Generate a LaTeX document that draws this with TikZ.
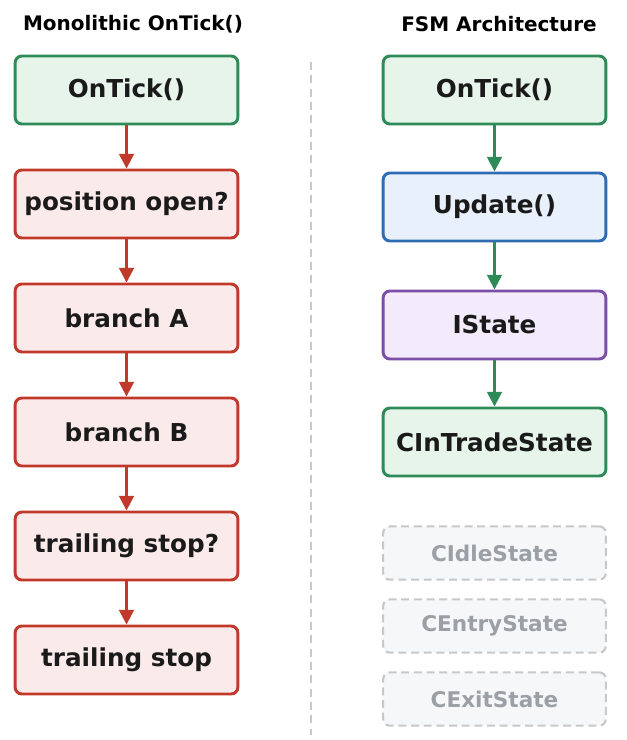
\documentclass[tikz,border=0pt]{standalone}
\usepackage{fontspec}
\setmainfont{DejaVu Sans}
\usetikzlibrary{arrows.meta}
\definecolor{gB}{HTML}{2E8B57}\definecolor{gF}{HTML}{E6F4EA}
\definecolor{rB}{HTML}{C0392B}\definecolor{rF}{HTML}{FBEAEA}
\definecolor{bB}{HTML}{2E6DB4}\definecolor{bF}{HTML}{E8F0FB}
\definecolor{pB}{HTML}{7B4FA8}\definecolor{pF}{HTML}{F3EAFB}
\definecolor{kB}{HTML}{C8C8C8}\definecolor{kF}{HTML}{F6F7F9}\definecolor{kT}{HTML}{9AA0A6}
\definecolor{txt}{HTML}{1A1A1A}
\begin{document}
\begin{tikzpicture}[x=0.75pt,y=-0.75pt,
 box/.style={draw,line width=2.2pt,rounded corners=5pt,minimum width=167pt,minimum height=51pt,font=\fontsize{18.5}{20}\selectfont\bfseries,text=txt},
 gbox/.style={box,draw=gB,fill=gF}, rbox/.style={box,draw=rB,fill=rF},
 bbox/.style={box,draw=bB,fill=bF}, pbox/.style={box,draw=pB,fill=pF},
 kbox/.style={box,draw=kB,fill=kF,text=kT,dash pattern=on 6pt off 3.5pt,line width=1.6pt,minimum height=40pt,font=\fontsize{16.2}{18}\selectfont\bfseries},
 rar/.style={draw=rB,line width=2pt,-{Triangle[length=11pt,width=11pt]}},
 gar/.style={draw=gB,line width=2pt,-{Triangle[length=11pt,width=11pt]}},
 ttl/.style={font=\fontsize{15}{17}\selectfont\bfseries,text=black}]
\useasboundingbox (0,0) rectangle (627,740);
\node[ttl] (t1) at (133,24) {Monolithic OnTick()};
\node[ttl] (t2) at (499,24) {FSM Architecture};
\coordinate (d1) at (311,62); \coordinate (d2) at (311,735);
\draw[kB,line width=1.6pt,dash pattern=on 6pt off 4pt] (d1) -- (d2);
\node[gbox] (l1) at (126.5,90) {OnTick()};
\node[rbox] (l2) at (126.5,204) {position open?};
\node[rbox] (l3) at (126.5,318) {branch A};
\node[rbox] (l4) at (126.5,432) {branch B};
\node[rbox] (l5) at (126.5,546) {trailing stop?};
\node[rbox] (l6) at (126.5,660) {trailing stop};
\foreach \a/\b in {l1/l2,l2/l3,l3/l4,l4/l5,l5/l6} \draw[rar] (\a) -- (\b);
\node[gbox] (r1) at (494.5,90) {OnTick()};
\node[bbox] (r2) at (494.5,207) {Update()};
\node[pbox] (r3) at (494.5,325) {IState};
\node[gbox] (r4) at (494.5,442) {CInTradeState};
\foreach \a/\b in {r1/r2,r2/r3,r3/r4} \draw[gar] (\a) -- (\b);
\node[kbox] (k1) at (494.5,553) {CIdleState};
\node[kbox] (k2) at (494.5,626) {CEntryState};
\node[kbox] (k3) at (494.5,699) {CExitState};
\end{tikzpicture}
\end{document}
